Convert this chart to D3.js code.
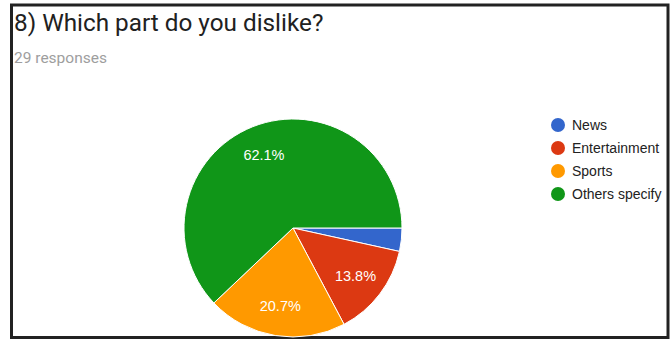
<!DOCTYPE html>
<html>
<head>
<meta charset="utf-8">
<script src="https://cdn.jsdelivr.net/npm/d3@7"></script>
<style>
  html, body { margin: 0; padding: 0; background: #fff; }
  svg { display: block; }
</style>
</head>
<body>
<svg id="chart" width="670" height="340"></svg>
<script>
const categories = ["News", "Entertainment", "Sports", "Others specify"];
const values = [1, 4, 6, 18];
const colors = ["#3366cc", "#dc3912", "#ff9900", "#109618"];
const title = "8) Which part do you dislike?";
const subtitle = "29 responses";

const svg = d3.select("#chart");
const W = 670, H = 340;

// frame
svg.append("rect")
  .attr("x", 11.5).attr("y", 5).attr("width", 656.5).attr("height", 332.5)
  .attr("fill", "#fff").attr("stroke", "#222").attr("stroke-width", 3);

svg.append("text")
  .attr("x", 14).attr("y", 31)
  .attr("font-family", "Roboto, sans-serif").attr("font-size", 24.3)
  .attr("fill", "#212121")
  .text(title);

svg.append("text")
  .attr("x", 14).attr("y", 63)
  .attr("font-family", "Roboto, sans-serif").attr("font-size", 15.5)
  .attr("fill", "#9e9e9e")
  .text(subtitle);

const cx = 293, cy = 228, r = 109;
const total = d3.sum(values);
const pie = d3.pie().sort(null).value(d => d)
  .startAngle(Math.PI / 2).endAngle(Math.PI / 2 + 2 * Math.PI);
const arcs = pie(values);
const arc = d3.arc().innerRadius(0).outerRadius(r);
const labelArc = d3.arc().innerRadius(r * 0.72).outerRadius(r * 0.72);

const color = d3.scaleOrdinal().domain(categories).range(colors);

const g = svg.append("g").attr("transform", `translate(${cx},${cy})`);
g.selectAll("path").data(arcs).join("path")
  .attr("d", arc)
  .attr("fill", (d, i) => color(categories[i]))
  .attr("stroke", "#fff").attr("stroke-width", 1);

const fmt = d3.format(".1%");
g.selectAll("text").data(arcs.filter(d => d.value / total > 0.05)).join("text")
  .attr("transform", d => `translate(${labelArc.centroid(d)})`)
  .attr("text-anchor", "middle").attr("dy", "0.35em")
  .attr("font-family", "Arial, 'Liberation Sans', sans-serif").attr("font-size", 14.5)
  .attr("fill", "#fff")
  .text(d => fmt(d.value / total));

const legend = svg.append("g").attr("transform", "translate(558,125)");
const rows = legend.selectAll("g").data(categories).join("g")
  .attr("transform", (d, i) => `translate(0,${i * 23})`);
rows.append("circle").attr("r", 7).attr("fill", d => color(d));
rows.append("text").attr("x", 14).attr("dy", "0.35em")
  .attr("font-family", "Arial, 'Liberation Sans', sans-serif").attr("font-size", 14)
  .attr("fill", "#222")
  .text(d => d);
</script>
</body>
</html>
